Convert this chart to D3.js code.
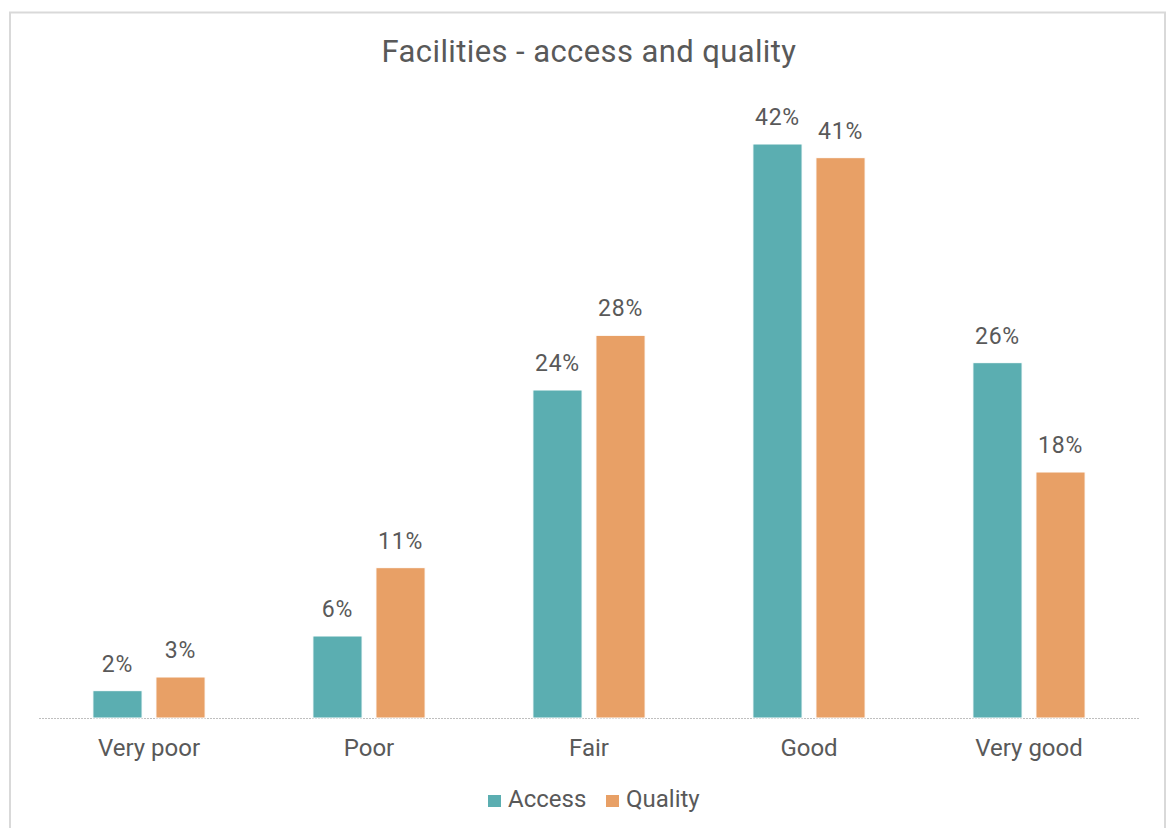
<!DOCTYPE html>
<html>
<head>
<meta charset="utf-8">
<script src="https://cdn.jsdelivr.net/npm/d3@7"></script>
<style>
  html, body { margin: 0; padding: 0; background: #fff; }
  svg { display: block; font-family: Roboto, "Noto Sans", sans-serif; }
</style>
</head>
<body>
<svg id="chart" width="1168" height="828"></svg>
<script>
// Survey ratings for facilities: share of responses per rating
const categories = ["Very poor", "Poor", "Fair", "Good", "Very good"];
const seriesNames = ["Access", "Quality"];
const accessValues = [2, 6, 24, 42, 26];
const qualityValues = [3, 11, 28, 41, 18];
const seriesColors = ["#5BAEB1", "#E8A066"];
const titleText = "Facilities - access and quality";

const svg = d3.select("#chart");
const textColor = "#595959";

// outer chart frame
svg.append("rect")
  .attr("x", 10).attr("y", 12.5)
  .attr("width", 1155).attr("height", 830)
  .attr("fill", "#fff")
  .attr("stroke", "#d9d9d9").attr("stroke-width", 2);

const plot = { left: 39, right: 1139, baseline: 718, top: 144 };

const x0 = d3.scaleBand()
  .domain(categories)
  .range([plot.left, plot.right])
  .paddingInner(0.49)
  .paddingOuter(0.245);

const x1 = d3.scaleBand()
  .domain(seriesNames)
  .range([0, x0.bandwidth()])
  .paddingInner(0.22)
  .paddingOuter(0);

const y = d3.scaleLinear()
  .domain([0, 42])
  .range([plot.baseline, plot.top]);

const rows = categories.map((c, i) => ({
  category: c,
  values: [
    { series: seriesNames[0], value: accessValues[i] },
    { series: seriesNames[1], value: qualityValues[i] }
  ]
}));

const color = d3.scaleOrdinal().domain(seriesNames).range(seriesColors);

// title
svg.append("text")
  .attr("x", 589).attr("y", 62)
  .attr("text-anchor", "middle")
  .attr("font-size", 31)
  .attr("letter-spacing", 0.4)
  .attr("fill", textColor)
  .text(titleText);

// category axis
const xAxis = svg.append("g")
  .attr("transform", `translate(0,${plot.baseline})`)
  .call(d3.axisBottom(x0).tickSize(0).tickPadding(21));
xAxis.select(".domain")
  .attr("stroke", "#bfbfbf")
  .attr("stroke-width", 1)
  .attr("stroke-dasharray", "2,1")
  .attr("d", `M${plot.left},0.5H${plot.right}`);
xAxis.selectAll(".tick text")
  .attr("font-size", 24)
  .attr("fill", textColor)
  .attr("font-family", "Roboto, sans-serif");

// bars
const groups = svg.append("g").selectAll("g")
  .data(rows)
  .join("g")
  .attr("transform", d => `translate(${x0(d.category)},0)`);

groups.selectAll("rect")
  .data(d => d.values)
  .join("rect")
  .attr("x", d => x1(d.series))
  .attr("y", d => y(d.value))
  .attr("width", x1.bandwidth())
  .attr("height", d => plot.baseline - y(d.value))
  .attr("fill", d => color(d.series))
  .attr("stroke", "#fff")
  .attr("stroke-width", 1);

// value labels
groups.selectAll("text.val")
  .data(d => d.values)
  .join("text")
  .attr("class", "val")
  .attr("x", d => x1(d.series) + x1.bandwidth() / 2)
  .attr("y", d => y(d.value) - 19)
  .attr("text-anchor", "middle")
  .attr("font-size", 23)
  .attr("letter-spacing", 0.8)
  .attr("fill", textColor)
  .text(d => d.value + "%");

// legend
const legend = svg.append("g").attr("transform", "translate(0,807)");
const legendItems = [
  { name: seriesNames[0], x: 488 },
  { name: seriesNames[1], x: 606 }
];
const li = legend.selectAll("g").data(legendItems).join("g")
  .attr("transform", d => `translate(${d.x},0)`);
li.append("rect")
  .attr("x", 0).attr("y", -12)
  .attr("width", 13).attr("height", 12)
  .attr("fill", d => color(d.name));
li.append("text")
  .attr("x", 20).attr("y", 0)
  .attr("font-size", 24)
  .attr("fill", textColor)
  .text(d => d.name);
</script>
</body>
</html>
